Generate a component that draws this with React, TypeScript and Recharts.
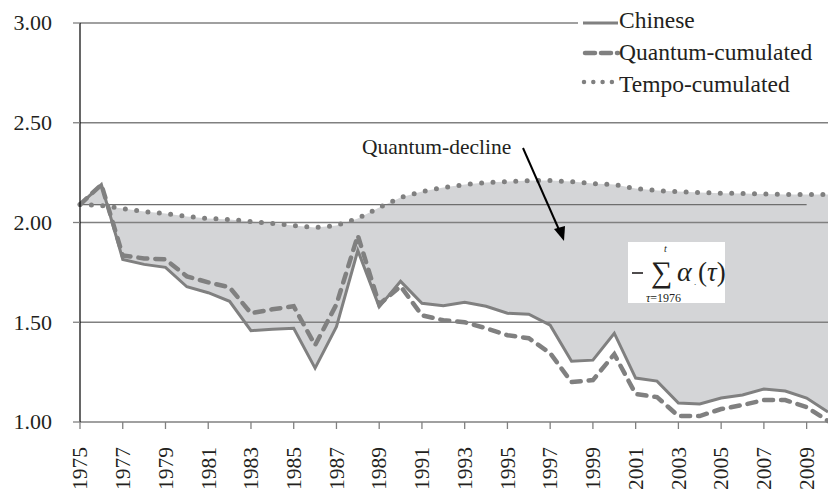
import React from 'react';
import { ComposedChart, Area, Line, XAxis, YAxis, ReferenceLine } from 'recharts';

const years = [1975, 1976, 1977, 1978, 1979, 1980, 1981, 1982, 1983, 1984, 1985, 1986, 1987, 1988, 1989, 1990, 1991, 1992, 1993, 1994, 1995, 1996, 1997, 1998, 1999, 2000, 2001, 2002, 2003, 2004, 2005, 2006, 2007, 2008, 2009, 2010];
const chinese = [2.09, 2.19, 1.815, 1.79, 1.775, 1.678, 1.648, 1.605, 1.458, 1.465, 1.47, 1.27, 1.478, 1.86, 1.577, 1.705, 1.595, 1.583, 1.6, 1.58, 1.545, 1.54, 1.485, 1.305, 1.31, 1.445, 1.22, 1.205, 1.095, 1.09, 1.12, 1.135, 1.165, 1.155, 1.12, 1.05];
const quantum = [2.09, 2.19, 1.835, 1.82, 1.815, 1.73, 1.7, 1.675, 1.545, 1.565, 1.58, 1.385, 1.59, 1.935, 1.59, 1.68, 1.535, 1.51, 1.5, 1.47, 1.435, 1.42, 1.345, 1.2, 1.21, 1.34, 1.14, 1.125, 1.03, 1.03, 1.065, 1.085, 1.11, 1.11, 1.075, 1.005];
const tempo = [2.09, 2.085, 2.07, 2.055, 2.045, 2.03, 2.02, 2.015, 2.005, 1.995, 1.985, 1.975, 1.985, 2.02, 2.075, 2.125, 2.155, 2.175, 2.19, 2.2, 2.205, 2.21, 2.21, 2.205, 2.195, 2.19, 2.17, 2.16, 2.155, 2.15, 2.147, 2.145, 2.143, 2.14, 2.14, 2.14];

const yTicks = [1, 1.5, 2, 2.5, 3];
const xTicks = [1975, 1977, 1979, 1981, 1983, 1985, 1987, 1989, 1991, 1993, 1995, 1997, 1999, 2001, 2003, 2005, 2007, 2009];
const replacementLevel = 2.09;
const replacementEnd = 2009;
const seriesNames = ['Chinese', 'Quantum-cumulated', 'Tempo-cumulated'];
const annotationText = 'Quantum-decline';

const data = years.map((year, i) => ({
  year,
  chinese: chinese[i],
  quantum: quantum[i],
  tempo: tempo[i],
  gap: [chinese[i], tempo[i]],
}));

const FONT = "'Liberation Serif', Tinos, 'Times New Roman', serif";
const TEXT = '#231f20';
const GRAY = '#808080';
const FILL = '#d4d5d7';

const XTick = (props: any) => {
  const { x, y, payload } = props;
  return (
    <text
      x={x}
      y={y}
      transform={`rotate(-90, ${x}, ${y})`}
      textAnchor="end"
      dy="0.34em"
      style={{ fontFamily: FONT, fontSize: 21.5 }}
      fill={TEXT}
    >
      {payload.value}
    </text>
  );
};

const YTick = (props: any) => {
  const { x, y, payload } = props;
  return (
    <text x={x} y={y} textAnchor="end" dy="0.34em" style={{ fontFamily: FONT, fontSize: 22 }} fill={TEXT}>
      {Number(payload.value).toFixed(2)}
    </text>
  );
};

export default function App() {
  return (
    <div style={{ position: 'absolute', left: 0, top: 0, width: 828, height: 494, background: '#fff', fontFamily: FONT }}>
      <ComposedChart width={828} height={494} data={data} margin={{ top: 23, right: 0, bottom: 0, left: 0 }}>
        <XAxis
          dataKey="year"
          type="number"
          domain={[1975, 2010]}
          ticks={xTicks}
          interval={0}
          height={72}
          axisLine={{ stroke: GRAY, strokeWidth: 1.5 }}
          tickLine={{ stroke: GRAY, strokeWidth: 1.3 }}
          tickSize={7}
          tickMargin={18}
          tick={<XTick />}
        />
        <YAxis
          type="number"
          domain={[1, 3]}
          ticks={yTicks}
          width={80}
          axisLine={{ stroke: '#000', strokeWidth: 1.2 }}
          tickLine={{ stroke: GRAY, strokeWidth: 1.3 }}
          tickSize={7}
          tickMargin={21}
          tick={<YTick />}
        />
        <Area dataKey="gap" type="linear" fill={FILL} fillOpacity={1} stroke="none" isAnimationActive={false} legendType="none" />
        {yTicks.slice(1).map((v) => (
          <ReferenceLine key={v} y={v} stroke={GRAY} strokeWidth={1.3} />
        ))}
        <ReferenceLine
          segment={[{ x: 1975, y: replacementLevel }, { x: replacementEnd, y: replacementLevel }]}
          stroke="#6e6e6e"
          strokeWidth={1.3}
        />
        <Line dataKey="quantum" name={seriesNames[1]} type="linear" stroke={GRAY} strokeWidth={4.5} strokeDasharray="9 8" strokeLinecap="round" dot={false} activeDot={false} isAnimationActive={false} />
        <Line dataKey="chinese" name={seriesNames[0]} type="linear" stroke={GRAY} strokeWidth={3} dot={false} activeDot={false} isAnimationActive={false} />
        <Line dataKey="tempo" name={seriesNames[2]} type="linear" stroke={GRAY} strokeWidth={5} strokeDasharray="0 11.4" strokeLinecap="round" dot={false} activeDot={false} isAnimationActive={false} />
      </ComposedChart>
      <svg width={828} height={494} style={{ position: 'absolute', left: 0, top: 0, pointerEvents: 'none', fontFamily: FONT }}>
        <g transform="translate(578,0)">
          <rect x={0} y={0} width={250} height={100} fill="#fff" />
          <line x1={5} y1={23} x2={40} y2={23} stroke={GRAY} strokeWidth={3} />
          <line x1={7} y1={53} x2={40} y2={53} stroke={GRAY} strokeWidth={4.5} strokeDasharray="10 6" strokeLinecap="round" />
          <line x1={6} y1={82} x2={34} y2={82} stroke={GRAY} strokeWidth={4.5} strokeDasharray="0 9.3" strokeLinecap="round" />
          {seriesNames.map((n, i) => (
            <text key={n} x={41} y={28 + i * 32} style={{ fontSize: 23.5 }} fill={TEXT}>
              {n}
            </text>
          ))}
        </g>
        <text x={362} y={154} style={{ fontSize: 21.5 }} fill={TEXT}>{annotationText}</text>
        <line x1={523} y1={148} x2={560} y2={232} stroke="#000" strokeWidth={2} />
        <polygon points="564,241 554,229 565,226" fill="#000" />
        <rect x={628} y={242} width={97} height={61} fill="#fff" />
        <g fill={TEXT}>
          <line x1={632} y1={273} x2={643} y2={273} stroke={TEXT} strokeWidth={1.6} />
          <text x={651} y={282} style={{ fontSize: 30 }}>∑</text>
          <text x={664} y={252} style={{ fontSize: 10, fontStyle: 'italic' }}>t</text>
          <text x={646} y={302} style={{ fontSize: 12 }}><tspan style={{ fontStyle: 'italic' }}>τ</tspan>=1976</text>
          <text x={677} y={281} style={{ fontSize: 28, fontStyle: 'italic' }}>α</text>
          <text x={694} y={285} style={{ fontSize: 9 }}>.</text>
          <text x={698} y={281} style={{ fontSize: 27 }}>(<tspan style={{ fontStyle: 'italic' }}>τ</tspan>)</text>
        </g>
      </svg>
    </div>
  );
}
